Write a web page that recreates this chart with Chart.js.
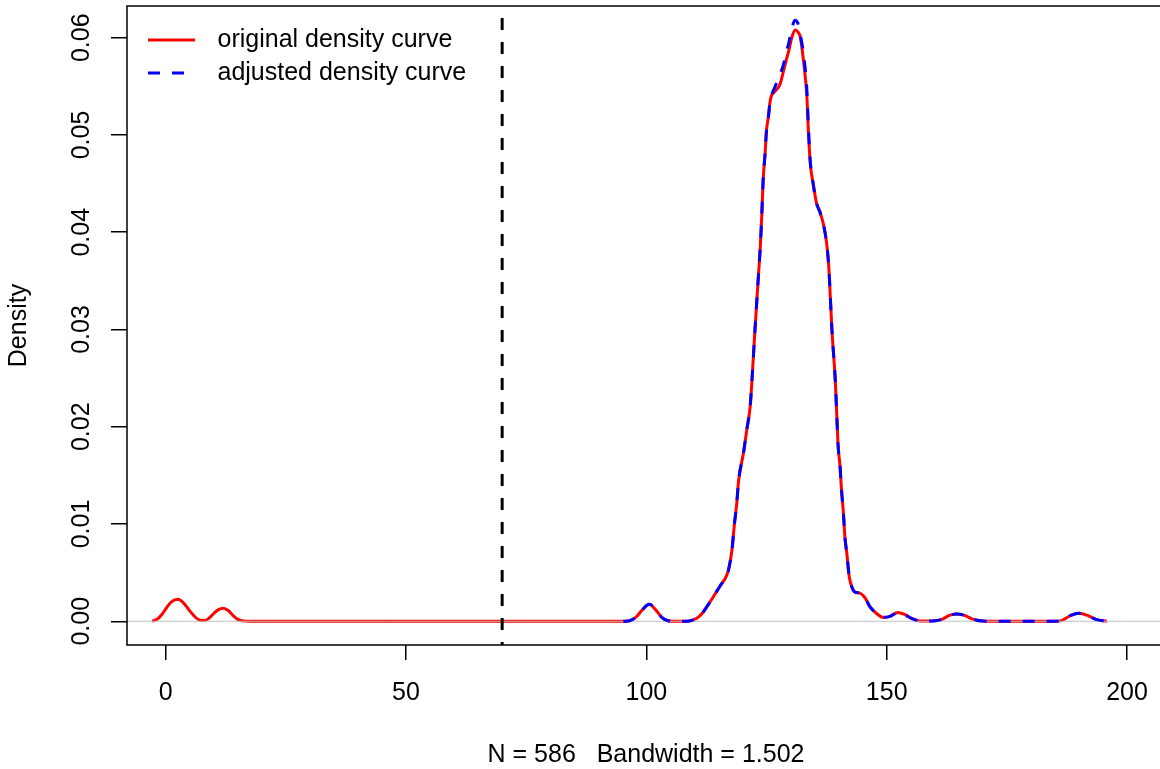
<!DOCTYPE html>
<html>
<head>
<meta charset="utf-8">
<script src="https://cdn.jsdelivr.net/npm/chart.js"></script>
<style>
  html, body { margin: 0; padding: 0; background: #fff; overflow: hidden; width: 1160px; height: 769px; }
  canvas { display: block; }
</style>
</head>
<body>
<canvas id="c" width="1200" height="769"></canvas>
<script>
// ---- data ----
const origX = [-2.8, -1.8, -0.8, 0.2, 1.2, 2.5, 3.7, 4.8, 6.0, 7.2, 8.0, 9.0, 10.0, 11.0, 12.0, 13.0, 14.0, 15.0, 16.0, 17.5,
  95.0, 96.5, 97.8, 99.2, 100.6, 101.9, 103.2, 104.5, 106.0, 108.5, 109.5, 110.5, 111.6, 112.6, 113.9, 115.3, 116.6, 117.1, 117.8,
  118.3, 118.8, 119.2, 120.2, 120.9, 121.6, 122.0, 122.6, 123.3, 123.7, 124.0, 124.3, 124.7, 125.0, 125.4, 125.7, 126.0, 126.8,
  127.8, 128.5, 129.1, 129.6, 130.3, 131.0, 131.5, 132.0, 132.7, 133.4, 133.7, 134.1, 134.7, 135.4, 136.1, 136.8, 137.5, 137.9,
  138.1, 138.6, 139.3, 139.6, 139.9, 140.3, 140.6, 141.0, 141.3, 141.7, 142.2, 142.7, 143.4, 144.4, 145.5, 146.5, 147.9, 149.3,
  150.7, 152.3, 153.7, 155.2, 157.0, 159.5, 161.5, 163.0, 164.6, 166.2, 168.0, 170.0, 172.0, 185.0, 186.5, 188.3, 190.0, 191.8,
  193.5, 195.8];
const origY = [0, 0.0002, 0.0007, 0.0014, 0.0020, 0.00226, 0.0019, 0.0012, 0.0005, 0.0001, 0.00008, 0.0003, 0.0008, 0.0012, 0.00134, 0.0011, 0.0006, 0.0002, 0.00004, 0,
  0, 0.00006, 0.0004, 0.0012, 0.00175, 0.0012, 0.0004, 0.00005, 0, 0, 0.0001, 0.0003, 0.0008, 0.0015, 0.0025, 0.0036, 0.0046, 0.0053, 0.0073,
  0.0099, 0.0121, 0.0145, 0.0173, 0.0197, 0.0221, 0.0250, 0.0300, 0.0354, 0.0385, 0.0416, 0.0454, 0.0481, 0.0505, 0.0519, 0.0533, 0.0540, 0.0545,
  0.0552, 0.0565, 0.0577, 0.0586, 0.0601, 0.0608, 0.0606, 0.0601, 0.0576, 0.0539, 0.0505, 0.0471, 0.0450, 0.0430, 0.0421, 0.0409, 0.0389, 0.0368,
  0.0351, 0.0300, 0.0248, 0.0214, 0.0180, 0.0159, 0.0135, 0.0111, 0.0087, 0.0070, 0.0046, 0.0036, 0.0030, 0.0029, 0.0024, 0.0015, 0.0008, 0.0004,
  0.0005, 0.0009, 0.0007, 0.0003, 0.00003, 0.00003, 0.0002, 0.0006, 0.00075, 0.0006, 0.0002, 0.00002, 0, 0, 0.0001, 0.0006, 0.00082, 0.0006,
  0.0002, 0];

const adjX = [95.2, 96.5, 97.8, 99.2, 100.6, 101.9, 103.2, 104.5, 106.0, 108.5, 109.5, 110.5, 111.6, 112.6, 113.9, 115.3, 116.6, 117.1, 117.8,
  118.3, 118.8, 119.2, 120.2, 120.9, 121.6, 122.0, 122.6, 123.3, 123.7, 124.0, 124.3, 124.7, 125.0, 125.4, 125.7, 126.0, 126.8,
  127.8, 128.5, 129.1, 129.6, 130.3, 130.9, 131.5, 132.0, 132.7, 133.4, 133.7, 134.1, 134.7, 135.4, 136.1, 136.8, 137.5, 137.9,
  138.1, 138.6, 139.3, 139.6, 139.9, 140.3, 140.6, 141.0, 141.3, 141.7, 142.2, 142.7, 143.4, 144.4, 145.5, 146.5, 147.9, 149.3,
  150.7, 152.3, 153.7, 155.2, 157.0, 159.5, 161.5, 163.0, 164.6, 166.2, 168.0, 170.0, 172.0, 185.0, 186.5, 188.3, 190.0, 191.8,
  193.5, 195.8];
const adjY = [0, 0.00006, 0.0004, 0.0012, 0.00175, 0.0012, 0.0004, 0.00005, 0, 0, 0.0001, 0.0003, 0.0008, 0.0015, 0.0025, 0.0036, 0.0046, 0.0053, 0.0073,
  0.0099, 0.0121, 0.0145, 0.0173, 0.0197, 0.0221, 0.0250, 0.0300, 0.0354, 0.0385, 0.0416, 0.0454, 0.0481, 0.0505, 0.0519, 0.0533, 0.0540, 0.0550,
  0.0562, 0.0572, 0.0585, 0.0594, 0.0610, 0.0618, 0.0615, 0.0604, 0.0583, 0.0546, 0.0510, 0.0473, 0.0450, 0.0430, 0.0421, 0.0409, 0.0389, 0.0368,
  0.0351, 0.0300, 0.0248, 0.0214, 0.0180, 0.0159, 0.0135, 0.0111, 0.0087, 0.0070, 0.0046, 0.0036, 0.0030, 0.0029, 0.0024, 0.0015, 0.0008, 0.0004,
  0.0005, 0.0009, 0.0007, 0.0003, 0.00003, 0.00003, 0.0002, 0.0006, 0.00075, 0.0006, 0.0002, 0.00002, 0, 0, 0.0001, 0.0006, 0.00082, 0.0006,
  0.0002, 0];

const cutoffX = 70;
const zeroLineY = 0;
const xTicks = [0, 50, 100, 150, 200];
const xTickLabels = ['0', '50', '100', '150', '200'];
const yTicks = [0, 0.01, 0.02, 0.03, 0.04, 0.05, 0.06];
const yTickLabels = ['0.00', '0.01', '0.02', '0.03', '0.04', '0.05', '0.06'];
const legendLabels = ['original density curve', 'adjusted density curve'];
const xTitle = 'N = 586   Bandwidth = 1.502';
const yTitle = 'Density';

// axis limits (R's usr)
const xMin = -8.05, xMax = 207.9;
const yMin = -0.00244, yMax = 0.06326;

// ---- styling ----
const FONT = '"Liberation Sans", Arial, Helvetica, sans-serif';
const FS = 25;
Chart.defaults.font.family = FONT;
Chart.defaults.font.size = FS;
Chart.defaults.color = '#000';

function swatch(color, dash) {
  const c = document.createElement('canvas');
  c.width = 57; c.height = 6;
  const g = c.getContext('2d');
  g.strokeStyle = color; g.lineWidth = 3; g.setLineDash(dash);
  g.beginPath(); g.moveTo(0, 3); g.lineTo(47, 3); g.stroke();
  return c;
}

const boxPlugin = {
  id: 'rbox',
  afterLayout(chart) {
    const lg = chart.legend;
    if (lg) {
      const w = lg.right - lg.left;
      lg.left = 140; lg.top = 19.5;
      lg.right = lg.left + w; lg.bottom = lg.top + 100;
    }
  },
  afterDatasetsDraw(chart) {
    const a = chart.chartArea, ctx = chart.ctx;
    ctx.save();
    ctx.strokeStyle = '#000';
    ctx.lineWidth = 1.5;
    ctx.setLineDash([]);
    ctx.strokeRect(a.left, a.top, a.right - a.left, a.bottom - a.top);
    ctx.restore();
  }
};

const pts = (xs, ys) => xs.map((x, i) => ({ x: x, y: ys[i] }));

const datasets = [
  { label: 'cutoff', data: [{ x: cutoffX, y: yMax }, { x: cutoffX, y: yMin }],
    borderColor: '#000', borderWidth: 3, borderDash: [12, 12], borderDashOffset: 12, pointRadius: 0, tension: 0 },
  { label: legendLabels[1], data: pts(adjX, adjY),
    borderColor: '#0000FF', borderWidth: 3, borderDash: [12, 12], pointRadius: 0, cubicInterpolationMode: 'monotone' },
  { label: 'zero', data: [{ x: xMin, y: zeroLineY }, { x: xMax, y: zeroLineY }],
    borderColor: '#BEBEBE', borderWidth: 1, pointRadius: 0, tension: 0 },
  { label: legendLabels[0], data: pts(origX, origY),
    borderColor: '#FF0000', borderWidth: 3, pointRadius: 0, cubicInterpolationMode: 'monotone' }
];

const legendItems = [
  { text: legendLabels[0], pointStyle: swatch('#FF0000', []), fillStyle: '#FF0000', strokeStyle: '#FF0000',
    lineWidth: 0, hidden: false, datasetIndex: 3, textAlign: 'left', fontColor: '#000' },
  { text: legendLabels[1], pointStyle: swatch('#0000FF', [12, 12]), fillStyle: '#0000FF', strokeStyle: '#0000FF',
    lineWidth: 0, hidden: false, datasetIndex: 1, textAlign: 'left', fontColor: '#000' }
];

new Chart(document.getElementById('c'), {
  type: 'line',
  data: { datasets: datasets },
  options: {
    responsive: false,
    animation: false,
    devicePixelRatio: 1,
    events: [],
    layout: { padding: { left: 0, top: 6, right: 35, bottom: 0 } },
    scales: {
      x: {
        type: 'linear', min: xMin, max: xMax,
        afterBuildTicks: s => { s.ticks = xTicks.map(v => ({ value: v })); },
        afterFit: s => { s.height = 124; s.paddingLeft = 0; s.paddingRight = 0; },
        grid: { drawOnChartArea: false, drawTicks: true, tickLength: 15, color: '#000', lineWidth: 1.5 },
        border: { display: false },
        ticks: { padding: 18, maxRotation: 0, minRotation: 0, autoSkip: false, color: '#000',
          font: { size: FS }, callback: (v, i) => xTickLabels[i] },
        title: { display: true, text: xTitle, color: '#000', font: { size: FS }, padding: { top: 0, bottom: -1 } }
      },
      y: {
        type: 'linear', min: yMin, max: yMax,
        afterBuildTicks: s => { s.ticks = yTicks.map(v => ({ value: v })); },
        afterFit: s => { s.width = 127; s.paddingTop = 0; s.paddingBottom = 0; },
        grid: { drawOnChartArea: false, drawTicks: true, tickLength: 16, color: '#000', lineWidth: 1.5 },
        border: { display: false },
        ticks: { padding: 4.6, minRotation: 90, maxRotation: 90, crossAlign: 'center', autoSkip: false, color: '#000',
          font: { size: FS }, callback: (v, i) => yTickLabels[i] },
        title: { display: true, text: yTitle, color: '#000', font: { size: FS }, padding: { top: 4.5, bottom: 0 } }
      }
    },
    plugins: {
      legend: {
        display: true,
        position: 'chartArea',
        align: 'start',
        labels: {
          usePointStyle: true,
          pointStyleWidth: 57,
          padding: 8,
          color: '#000',
          textAlign: 'left',
          font: { size: FS },
          generateLabels: () => legendItems
        }
      },
      tooltip: { enabled: false }
    }
  },
  plugins: [boxPlugin]
});
</script>
</body>
</html>
